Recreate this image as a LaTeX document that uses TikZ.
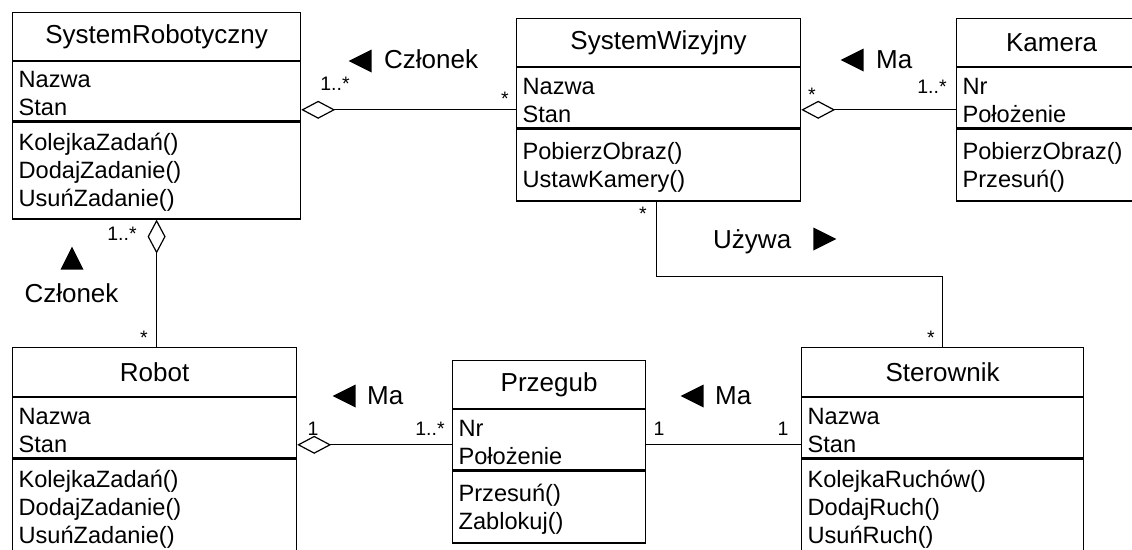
\documentclass[tikz,border=0pt]{standalone}
\usepackage{fontspec}
\setmainfont{Liberation Sans}
\usetikzlibrary{shapes.geometric,arrows.meta}

\begin{document}
\begin{tikzpicture}[x=1pt, y=-1pt,
    class_title/.style ={rectangle, draw=black, line width=1.2pt, anchor=north west,
      text centered, inner xsep=6pt, inner ysep=0pt, font=\fontsize{26}{30}\selectfont},
    class_body/.style ={rectangle, draw=black, line width=1.2pt, anchor=north west,
      align=left, inner xsep=6pt, inner ysep=0pt, font=\fontsize{23.6}{28}\selectfont,
      execute at begin node=\rule{0pt}{21pt}},
    mult/.style ={anchor=base, inner sep=0pt, font=\fontsize{19.5}{22}\selectfont},
    role/.style ={anchor=base west, inner sep=0pt, font=\fontsize{26}{30}\selectfont},
    tri/.style ={isosceles triangle, isosceles triangle stretches, fill=black, draw=none,
      minimum height=23pt, minimum width=23pt, inner sep=0pt, anchor=apex},
    line/.style ={draw=black, line width=1.2pt},
    agg_line/.style ={line, -{Diamond[open, length=34pt, width=18pt]}}]

    \useasboundingbox (0,0) rectangle (1132,549);
    \clip (0,0) rectangle (1132,549);

    % Place class boxes (title, attributes, operations)
    \node [class_title, text width=276pt, minimum height=48pt] (sr) at (12,12) {SystemRobotyczny};
    \node [class_body, text width=276pt, minimum height=59pt] (sr-a) at (sr.south west) {Nazwa\\Stan};
    \node [class_body, text width=276pt, minimum height=97pt] (sr-o) at (sr-a.south west) {KolejkaZadań()\\DodajZadanie()\\UsuńZadanie()};

    \node [class_title, text width=272pt, minimum height=48pt] (sw) at (516,18) {SystemWizyjny};
    \node [class_body, text width=272pt, minimum height=60pt] (sw-a) at (sw.south west) {Nazwa\\Stan};
    \node [class_body, text width=272pt, minimum height=72pt] (sw-o) at (sw-a.south west) {PobierzObraz()\\UstawKamery()};

    \node [class_title, text width=178pt, minimum height=48pt] (kam) at (956,18) {Kamera};
    \node [class_body, text width=178pt, minimum height=60pt] (kam-a) at (kam.south west) {Nr\\Położenie};
    \node [class_body, text width=178pt, minimum height=72pt] (kam-o) at (kam-a.south west) {PobierzObraz()\\Przesuń()};

    \node [class_title, text width=272pt, minimum height=49pt] (rob) at (12,347) {Robot};
    \node [class_body, text width=272pt, minimum height=60pt] (rob-a) at (rob.south west) {Nazwa\\Stan};
    \node [class_body, text width=272pt, minimum height=96pt] (rob-o) at (rob-a.south west) {KolejkaZadań()\\DodajZadanie()\\UsuńZadanie()};

    \node [class_title, text width=181pt, minimum height=48pt] (prz) at (452,360) {Przegub};
    \node [class_body, text width=181pt, minimum height=60pt] (prz-a) at (prz.south west) {Nr\\Położenie};
    \node [class_body, text width=181pt, minimum height=72pt] (prz-o) at (prz-a.south west) {Przesuń()\\Zablokuj()};

    \node [class_title, text width=270pt, minimum height=49pt] (ste) at (801,347) {Sterownik};
    \node [class_body, text width=270pt, minimum height=60pt] (ste-a) at (ste.south west) {Nazwa\\Stan};
    \node [class_body, text width=270pt, minimum height=96pt] (ste-o) at (ste-a.south west) {KolejkaRuchów()\\DodajRuch()\\UsuńRuch()};

    % Drawing associations
    \path [agg_line] ([yshift=-12pt]sw-a.west) -- ([yshift=-18.5pt]sr-a.east);
    \path [agg_line] ([yshift=-12pt]kam-a.west) -- ([yshift=-12pt]sw-a.east);
    \path [agg_line] (rob.north -| sr-o.south) -- (sr-o.south);
    \path [agg_line] ([yshift=-5pt]prz-a.west) -- ([yshift=-17pt]rob-a.east);
    \path [line] ([yshift=-5pt]prz-a.east) -- ([yshift=-17pt]ste-a.west);
    \path [line] ([xshift=-2pt]sw-o.south) -- ++(0,75) -| (ste.north);

    % multiplicities
    \node [mult] (m-sr-sw) at (335,90) {1..*};
    \node [mult] (m-sw-sr) at (505,105) {*};
    \node [mult] (m-sw-kam) at (812,101) {*};
    \node [mult] (m-kam-sw) at (932,93) {1..*};
    \node [mult] (m-sw-ste) at (643,220) {*};
    \node [mult] (m-ste-sw) at (931,344) {*};
    \node [mult] (m-sr-rob) at (122,240) {1..*};
    \node [mult] (m-rob-sr) at (144,344) {*};
    \node [mult] (m-rob-prz) at (313,435) {1};
    \node [mult] (m-prz-rob) at (430,435) {1..*};
    \node [mult] (m-prz-ste) at (659,435) {1};
    \node [mult] (m-ste-prz) at (783,435) {1};

    % association names with direction triangles
    \node [tri, shape border rotate=180] (t-czl1) at (348,61) {};
    \node [role] (r-czl1) at (384,68) {Członek};
    \node [tri, shape border rotate=180] (t-ma1) at (840,60) {};
    \node [role] (r-ma1) at (876,68) {Ma};
    \node [role] (r-uz) at (713,248) {Używa};
    \node [tri] (t-uz) at (837,239) {};
    \node [tri, shape border rotate=90] (t-czl2) at (72,246) {};
    \node [role, anchor=base] (r-czl2) at (71.5,302) {Członek};
    \node [tri, shape border rotate=180] (t-ma2) at (332,396) {};
    \node [role] (r-ma2) at (367,404) {Ma};
    \node [tri, shape border rotate=180] (t-ma3) at (680,396) {};
    \node [role] (r-ma3) at (715,404) {Ma};

\end{tikzpicture}
\end{document}
